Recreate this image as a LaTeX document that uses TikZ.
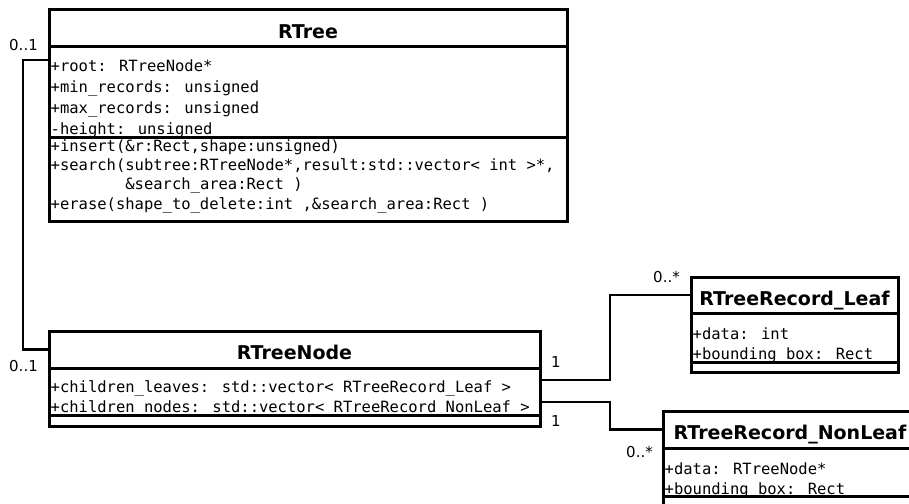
\documentclass[tikz,border=0pt]{standalone}
\usepackage{fontspec}
\setmainfont{DejaVu Sans}
\newfontfamily\umlmono{DejaVu Sans Mono}
\newcommand\umltitle{\fontsize{19}{21}\selectfont\bfseries}
\newcommand\umlrow{\umlmono\fontsize{15.5}{21}\selectfont}
\newcommand\umlmult{\fontsize{15}{17}\selectfont}

\begin{document}
\begin{tikzpicture}[x=1pt,y=-1pt]
  \tikzstyle{classhead}=[draw, line width=3pt, outer sep=0pt, inner sep=0pt,
    font=\umltitle, text height=20pt, text depth=0pt]
  \tikzstyle{compart}=[draw, line width=3pt, outer sep=0pt, inner sep=0pt]
  \tikzstyle{row}=[anchor=base west, inner sep=0pt, font=\umlrow]
  \tikzstyle{mult}=[anchor=base west, inner sep=0pt, font=\umlmult]
  \tikzstyle{assoc}=[draw, line width=2.3pt]

  \useasboundingbox[fill=white] (0,0) rectangle (909,503);

  % RTree
  \node[classhead, minimum width=518pt, minimum height=37pt] (rtree) at (308,28.5) {RTree};
  \node[compart, minimum width=518pt, minimum height=90pt] (rtreeattr) at (308,92) {};
  \node[compart, minimum width=518pt, minimum height=84pt] (rtreeops) at (308,179) {};
  \node[row] (rtree-a1) at (50.5,71) {+root: RTreeNode*};
  \node[row] (rtree-a2) at (50.5,92) {+min\_records: unsigned};
  \node[row] (rtree-a3) at (50.5,113) {+max\_records: unsigned};
  \node[row] (rtree-a4) at (50.5,134) {-height: unsigned};
  \node[row] (rtree-o1) at (50.5,151) {+insert(\&r:Rect,shape:unsigned)};
  \node[row] (rtree-o2) at (50.5,170) {+search(subtree:RTreeNode*,result:std::vector< int >*,};
  \node[row] (rtree-o3) at (50.5,189) {\phantom{+search(}\&search\_area:Rect )};
  \node[row] (rtree-o4) at (50.5,209) {+erase(shape\_to\_delete:int ,\&search\_area:Rect )};

  % RTreeNode
  \node[classhead, minimum width=491pt, minimum height=37pt] (rtreenode) at (294.5,349.5) {RTreeNode};
  \node[compart, minimum width=491pt, minimum height=47pt] (nodeattr) at (294.5,391.5) {};
  \node[compart, minimum width=491pt, minimum height=11pt] (nodeops) at (294.5,420.5) {};
  \node[row] (node-a1) at (50.5,392) {+children\_leaves: std::vector< RTreeRecord\_Leaf >};
  \node[row] (node-a2) at (50.5,412) {+children\_nodes: std::vector< RTreeRecord\_NonLeaf >};

  % RTreeRecord_Leaf
  \node[classhead, minimum width=207pt, minimum height=36pt] (leaf) at (794.5,295) {RTreeRecord\_Leaf};
  \node[compart, minimum width=207pt, minimum height=49pt] (leafattr) at (794.5,337.5) {};
  \node[compart, minimum width=207pt, minimum height=10pt] (leafops) at (794.5,367) {};
  \node[row] (leaf-a1) at (692.5,339) {+data: int};
  \node[row] (leaf-a2) at (692.5,359) {+bounding\_box: Rect};

  % RTreeRecord_NonLeaf
  \node[classhead, minimum width=254pt, minimum height=37pt] (nonleaf) at (790,429.5) {RTreeRecord\_NonLeaf};
  \node[compart, minimum width=254pt, minimum height=48pt] (nonleafattr) at (790,472) {};
  \node[compart, minimum width=254pt, minimum height=30pt] (nonleafops) at (790,511) {};
  \node[row] (nonleaf-a1) at (664.5,474) {+data: RTreeNode*};
  \node[row] (nonleaf-a2) at (664.5,494) {+bounding\_box: Rect};

  % associations
  \draw[assoc] ([yshift=-13pt]rtreeattr.north west) -- ++(-26,0) |- (rtreenode.west);
  \draw[assoc] ([yshift=-12pt]nodeattr.north east) -- ++(70,0) |- (leaf.west);
  \draw[assoc] ([yshift=-34pt]nodeattr.north east) -- ++(70,0) |- (nonleaf.west);

  % multiplicities
  \node[mult] (m-rtree) at (9,50.7) {0..1};
  \node[mult] (m-node) at (9,371.5) {0..1};
  \node[mult] (m-node-leaf) at (551,367.7) {1};
  \node[mult] (m-node-nonleaf) at (551,426.7) {1};
  \node[mult] (m-leaf) at (653,282.7) {0..*};
  \node[mult] (m-nonleaf) at (626,457.7) {0..*};
\end{tikzpicture}
\end{document}
